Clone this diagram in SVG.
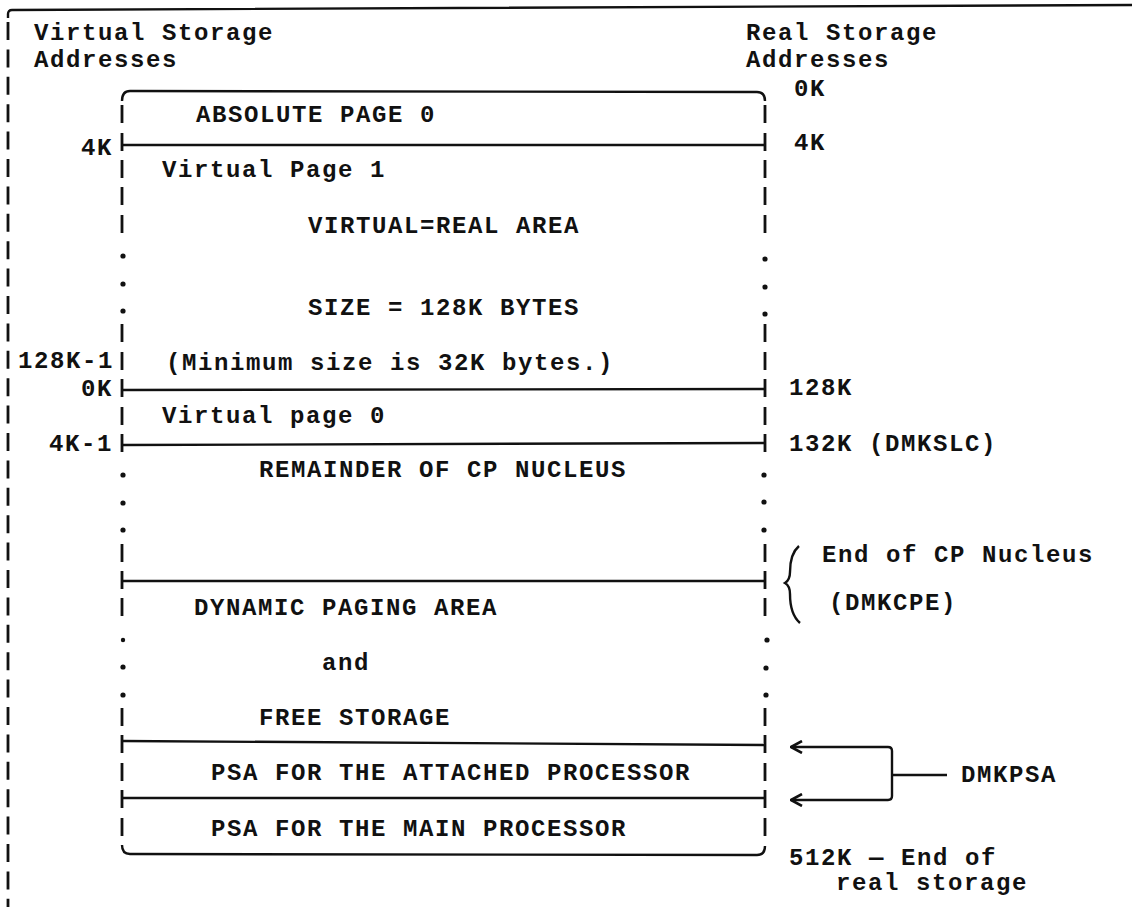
<svg xmlns="http://www.w3.org/2000/svg" width="1132" height="907" viewBox="0 0 1132 907">
<defs>
<style>
text { font-family: "Liberation Mono", "DejaVu Sans Mono", monospace; font-size: 24px; letter-spacing: 1.6px; fill: #111; font-weight: bold; }
.ln { stroke: #111; stroke-width: 2.4; fill: none; }
.bar { stroke: #111; stroke-width: 2.8; fill: none; }
.dot { fill: #111; }
</style>
<marker id="chev" viewBox="0 0 13 14" refX="12" refY="7" markerWidth="13" markerHeight="14" markerUnits="userSpaceOnUse" orient="auto-start-reverse">
<path d="M1,1 L12,7 L1,13" fill="none" stroke="#111" stroke-width="2.6"/>
</marker>
</defs>
<rect width="1132" height="907" fill="#fff"/>

<g id="frame">
<path class="ln" d="M8,18 V14 Q8,10 12,10 L1132,5"/>
<path class="bar" d="M8,22 V907" stroke-dasharray="18 9.4"/>
</g>

<g id="column-headings">
<text x="34" y="40">Virtual Storage</text>
<text x="34" y="67">Addresses</text>
<text x="746" y="40">Real Storage</text>
<text x="746" y="67">Addresses</text>
</g>

<g id="storage-box">
<path class="ln" d="M122,101 Q122,91 130,91 L757,92 Q765,92 765,101"/>
<path class="ln" d="M122,845 Q122,854 130,854 L757,855 Q765,855 765,846"/>
<path class="bar" d="M122,105 V123 M122,133 V151 M122,160 V178 M122,187 V205 M122,215 V233 M122,324 V342 M122,352 V370 M122,379 V397 M122,407 V425 M122,434 V452 M122,544 V562 M122,571 V589 M122,598 V616 M122,708 V726 M122,735 V753 M122,763 V781 M122,790 V808 M122,818 V836"/>
<path class="bar" d="M765,105 V123 M765,133 V151 M765,160 V178 M765,187 V205 M765,215 V233 M765,324 V342 M765,352 V370 M765,379 V397 M765,407 V425 M765,434 V452 M765,544 V562 M765,571 V589 M765,598 V616 M765,708 V726 M765,735 V753 M765,763 V781 M765,790 V808 M765,818 V836"/>
<g class="dot">
<circle cx="123" cy="256" r="2.6"/><circle cx="123" cy="284" r="2.6"/><circle cx="123" cy="311" r="2.6"/>
<circle cx="123" cy="475" r="2.6"/><circle cx="123" cy="503" r="2.6"/><circle cx="123" cy="530" r="2.6"/>
<circle cx="123" cy="640" r="2.2"/><circle cx="123" cy="667" r="2.6"/><circle cx="123" cy="695" r="2.6"/>
<circle cx="765" cy="259" r="2.6"/><circle cx="765" cy="287" r="2.6"/><circle cx="765" cy="314" r="2.6"/>
<circle cx="764" cy="475" r="2.6"/><circle cx="764" cy="502" r="2.6"/><circle cx="764" cy="530" r="2.6"/>
<circle cx="767" cy="640" r="2.6"/><circle cx="766" cy="668" r="2.6"/><circle cx="766" cy="695" r="2.6"/>
</g>
</g>

<g id="absolute-page-0">
<text x="196" y="122">ABSOLUTE PAGE 0</text>
<text x="794" y="96">0K</text>
</g>

<g id="virtual-equals-real-area">
<line class="ln" x1="122" y1="145" x2="765" y2="145"/>
<text x="81" y="155">4K</text>
<text x="794" y="150">4K</text>
<text x="162" y="177">Virtual Page 1</text>
<text x="308" y="233">VIRTUAL=REAL AREA</text>
<text x="308" y="315">SIZE = 128K BYTES</text>
<text x="18" y="368">128K-1</text>
<text x="166" y="370">(Minimum size is 32K bytes.)</text>
</g>

<g id="virtual-page-0">
<line class="ln" x1="122" y1="390" x2="765" y2="389"/>
<text x="81" y="396">0K</text>
<text x="789" y="395">128K</text>
<text x="162" y="423">Virtual page 0</text>
</g>

<g id="cp-nucleus">
<line class="ln" x1="122" y1="445" x2="765" y2="443"/>
<text x="49" y="451">4K-1</text>
<text x="789" y="451">132K (DMKSLC)</text>
<text x="259" y="477">REMAINDER OF CP NUCLEUS</text>
<text x="822" y="562">End of CP Nucleus</text>
<text x="829" y="610">(DMKCPE)</text>
</g>

<g id="dynamic-paging-area">
<line class="ln" x1="122" y1="581" x2="765" y2="581"/>
<text x="194" y="615">DYNAMIC PAGING AREA</text>
<text x="322" y="670">and</text>
<text x="259" y="725">FREE STORAGE</text>
</g>

<g id="psa-attached">
<line class="ln" x1="122" y1="741" x2="765" y2="745"/>
<text x="211" y="780">PSA FOR THE ATTACHED PROCESSOR</text>
</g>

<g id="psa-main">
<line class="ln" x1="122" y1="798" x2="765" y2="798"/>
<text x="211" y="836">PSA FOR THE MAIN PROCESSOR</text>
</g>

<g id="dmkpsa">
<text x="961" y="782">DMKPSA</text>
</g>

<g id="end-of-real-storage">
<text x="789" y="865">512K — End of</text>
<text x="836" y="890">real storage</text>
</g>

<g id="connectors">
<path class="ln" d="M799,546 C792,552 790,562 790,572 Q790,580 785,583 Q790,586 790,594 C790,606 792,616 800,623" stroke-width="2.2"/>
<path class="ln" d="M791,747 H888 Q892,747 892,751 V775" marker-start="url(#chev)"/>
<path class="ln" d="M791,800 H888 Q892,800 892,796 V775" marker-start="url(#chev)"/>
<path class="ln" d="M892,775 H947"/>
</g>
</svg>
